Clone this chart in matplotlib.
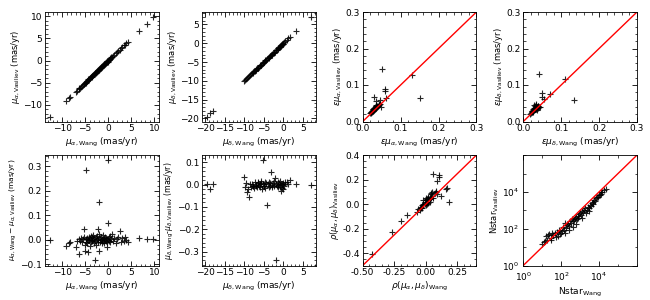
import matplotlib
matplotlib.use("Agg")
import matplotlib.pyplot as plt
import matplotlib.ticker as mticker
import numpy as np

# proper motion in RA (Wang) and the Wang - Vasiliev difference
pmra_wang = [-12.6, -9.2, -8.5, -8.3, -7.0, -6.8, -6.4, -6.3, -6.1, -5.9,
             -5.7, -5.5, -5.3, -5.2, -5.1, -5.0, -4.9, -4.8, -4.7, -4.6,
             -4.5, -4.4, -4.3, -4.2, -4.1, -4.0, -3.9, -3.8, -3.7, -3.6,
             -3.5, -3.4, -3.3, -3.2, -3.1, -3.0, -2.9, -2.8, -2.7, -2.6,
             -2.5, -2.4, -2.3, -2.2, -2.1, -2.0, -1.95, -1.9, -1.8, -1.7,
             -1.6, -1.5, -1.4, -1.3, -1.2, -1.1, -1.0, -0.9, -0.8, -0.7,
             -0.6, -0.5, -0.4, -0.3, -0.2, -0.1, 0.0, 0.05, 0.1, 0.2,
             0.3, 0.5, 0.7, 0.9, 1.1, 1.3, 1.6, 1.9, 2.2, 2.5,
             2.8, 3.1, 3.4, 3.6, 3.9, 4.2, 6.7, 8.3, 9.8, -0.35]
pmra_diff = [0.000, -0.025, -0.012, -0.008, -0.030, -0.005, 0.002, -0.060, -0.004, 0.006,
             -0.010, 0.004, 0.010, 0.045, -0.020, -0.045, -0.008, 0.003, 0.285, -0.015,
             0.008, -0.003, -0.050, 0.012, 0.000, -0.025, 0.005, -0.010, 0.015, -0.002,
             0.010, -0.006, 0.020, 0.002, -0.012, 0.007, -0.004, -0.085, 0.012, -0.020,
             0.004, 0.015, -0.008, 0.042, 0.000, 0.155, -0.045, 0.022, -0.010, 0.006,
             -0.003, 0.010, -0.015, 0.002, 0.018, -0.006, 0.004, -0.012, 0.008, 0.000,
             0.012, -0.004, 0.006, -0.010, 0.003, 0.000, 0.325, 0.070, -0.006, 0.010,
             -0.008, 0.015, 0.002, 0.025, -0.005, 0.008, -0.012, 0.004, 0.010, 0.035,
             -0.010, 0.006, -0.004, 0.012, 0.000, -0.008, 0.005, 0.003, 0.001, -0.030]

# proper motion in Dec (Wang) and the Wang - Vasiliev difference
pmde_wang = [-19.5, -18.7, -18.0, -10.1, -9.8, -9.6, -9.3, -9.0, -8.8, -8.5,
             -8.2, -8.0, -7.7, -7.5, -7.3, -7.1, -6.9, -6.7, -6.5, -6.3,
             -6.1, -5.9, -5.7, -5.5, -5.3, -5.2, -5.0, -4.8, -4.6, -4.4,
             -4.2, -4.0, -3.8, -3.6, -3.4, -3.2, -3.0, -2.8, -2.6, -2.4,
             -2.2, -2.0, -1.9, -1.7, -1.5, -1.3, -1.1, -0.9, -0.7, -0.5,
             -0.4, -0.3, -0.2, -0.1, 0.0, 0.2, 0.5, 0.9, 1.3, 1.6,
             3.3, 7.0, -5.8, -4.9, -3.5, -2.5, -1.4, -0.8, -6.6, -7.9]
pmde_diff = [0.004, -0.020, 0.003, 0.035, -0.010, 0.006, -0.035, -0.020, -0.055, 0.002,
             -0.012, 0.005, -0.008, -0.015, 0.010, -0.004, 0.000, -0.010, 0.012, -0.006,
             0.003, -0.012, 0.008, -0.020, 0.004, 0.110, -0.008, 0.010, -0.015, 0.006,
             -0.090, 0.002, -0.010, 0.012, -0.004, 0.055, 0.000, -0.012, 0.008, -0.006,
             0.030, -0.340, 0.004, -0.008, 0.010, -0.003, 0.006, -0.010, 0.002, -0.030,
             -0.015, 0.004, -0.020, 0.008, 0.000, -0.006, 0.010, 0.012, 0.004, 0.020,
             0.003, 0.000, 0.018, -0.005, 0.006, 0.015, -0.012, 0.016, 0.008, -0.004]

# proper motion errors
epmra_wang = [0.020, 0.022, 0.023, 0.024, 0.025, 0.026, 0.027, 0.028, 0.029, 0.030,
              0.031, 0.032, 0.033, 0.034, 0.035, 0.036, 0.038, 0.040, 0.042, 0.045,
              0.021, 0.024, 0.026, 0.028, 0.030, 0.032, 0.034, 0.036, 0.039, 0.044,
              0.030, 0.035, 0.045, 0.050, 0.058, 0.058, 0.062, 0.130, 0.152, 0.048]
epmra_vas = [0.022, 0.025, 0.024, 0.030, 0.028, 0.033, 0.029, 0.035, 0.031, 0.038,
             0.034, 0.040, 0.036, 0.042, 0.038, 0.045, 0.040, 0.042, 0.046, 0.048,
             0.026, 0.027, 0.030, 0.032, 0.036, 0.035, 0.039, 0.041, 0.043, 0.047,
             0.067, 0.055, 0.060, 0.145, 0.090, 0.084, 0.065, 0.128, 0.065, 0.040]
epmde_wang = [0.019, 0.021, 0.022, 0.023, 0.024, 0.025, 0.026, 0.027, 0.028, 0.029,
              0.030, 0.031, 0.032, 0.033, 0.034, 0.035, 0.036, 0.037, 0.039, 0.041,
              0.022, 0.025, 0.027, 0.029, 0.031, 0.033, 0.035, 0.038, 0.040, 0.044,
              0.042, 0.110, 0.135, 0.050, 0.050, 0.070, 0.055, 0.028, 0.033, 0.037]
epmde_vas = [0.021, 0.024, 0.028, 0.025, 0.030, 0.027, 0.033, 0.029, 0.036, 0.031,
             0.038, 0.033, 0.042, 0.035, 0.045, 0.037, 0.040, 0.036, 0.042, 0.040,
             0.026, 0.030, 0.032, 0.034, 0.037, 0.036, 0.040, 0.043, 0.038, 0.040,
             0.130, 0.117, 0.058, 0.077, 0.068, 0.075, 0.063, 0.046, 0.048, 0.032]

# correlation coefficient
rho_wang = [-0.43, -0.27, -0.20, -0.15, -0.07, -0.06, -0.05, -0.04, -0.04, -0.03,
            -0.03, -0.02, -0.02, -0.01, -0.01, 0.00, 0.00, 0.00, 0.01, 0.01,
            0.01, 0.02, 0.02, 0.02, 0.03, 0.03, 0.03, 0.04, 0.04, 0.05,
            0.05, 0.06, 0.07, 0.08, 0.09, 0.06, 0.10, 0.10, 0.09, 0.17,
            0.16, 0.18, 0.12, 0.08, -0.02, 0.00, 0.01, -0.05, 0.04, 0.02]
rho_vas = [-0.41, -0.225, -0.14, -0.09, -0.06, -0.04, -0.05, -0.02, -0.03, -0.01,
           -0.03, 0.00, -0.01, 0.02, 0.00, 0.03, 0.01, -0.01, 0.04, 0.02,
           0.00, 0.05, 0.03, 0.01, 0.06, 0.04, 0.02, 0.08, 0.05, 0.10,
           0.07, 0.25, 0.09, 0.10, 0.19, 0.05, 0.24, 0.22, 0.08, 0.13,
           0.12, 0.02, 0.07, 0.11, 0.03, 0.05, 0.04, -0.03, 0.09, 0.06]

# number of member stars
nstar_wang = [10, 12, 14, 16, 18, 20, 24, 28, 32, 38,
              45, 55, 60, 70, 80, 95, 110, 120, 140, 160,
              180, 200, 230, 260, 300, 340, 380, 420, 480, 550,
              620, 700, 800, 900, 1000, 1150, 1300, 1500, 1700, 1900,
              2200, 2500, 2800, 3200, 3600, 4000, 4500, 5000, 5600, 6300,
              7000, 8000, 9000, 10000, 11500, 13000, 15000, 18000, 22000, 250,
              150, 600, 1200, 2000, 30, 90, 400, 750, 3000, 12000]
nstar_vas = [15, 18, 22, 40, 25, 45, 50, 30, 60, 45,
             55, 35, 70, 40, 80, 60, 75, 130, 90, 200,
             110, 150, 180, 140, 260, 200, 320, 250, 300, 380,
             450, 350, 500, 600, 700, 550, 900, 800, 1000, 1300,
             1100, 1600, 1400, 2000, 1800, 2600, 2300, 3000, 3500, 3200,
             4500, 5000, 5500, 6500, 7000, 8000, 9500, 12000, 15000, 90,
             60, 180, 400, 700, 25, 50, 120, 400, 900, 10000]

pmra_vas = np.array(pmra_wang) - np.array(pmra_diff)
pmde_vas = np.array(pmde_wang) - np.array(pmde_diff)

plt.rcParams['font.size'] = 6.5
plt.rcParams['mathtext.default'] = 'it'

fig = plt.figure(figsize=(6.5, 3.0), dpi=100)
lefts = [0.069, 0.311, 0.558, 0.805]
w = 0.175
axes = []
for b, h in [(0.595, 0.365), (0.115, 0.368)]:
    for l in lefts:
        axes.append(fig.add_axes([l, b, w, h]))

mk = dict(marker='+', color='k', linestyle='none', markersize=4.5,
          markeredgewidth=0.8, alpha=0.85)
xl = dict(fontsize=6.5)
yl = dict(fontsize=6)

ax = axes[0]
ax.plot(pmra_wang, pmra_vas, **mk)
ax.xaxis.set_major_locator(mticker.MultipleLocator(5))
ax.yaxis.set_major_locator(mticker.MultipleLocator(5))
ax.set_xlabel(r'$\mu_{\alpha,\rm Wang}$ (mas/yr)', **xl)
ax.set_ylabel(r'$\mu_{\alpha,\rm Vasiliev}$ (mas/yr)', **yl)

ax = axes[1]
ax.plot(pmde_wang, pmde_vas, **mk)
ax.xaxis.set_major_locator(mticker.MultipleLocator(5))
ax.yaxis.set_major_locator(mticker.MultipleLocator(5))
ax.set_xlabel(r'$\mu_{\delta,\rm Wang}$ (mas/yr)', **xl)
ax.set_ylabel(r'$\mu_{\delta,\rm Vasiliev}$ (mas/yr)', **yl)

ax = axes[2]
ax.plot(epmra_wang, epmra_vas, **mk)
ax.plot([0, 0.3], [0, 0.3], color='red', lw=1)
ax.set_xlim(0, 0.3)
ax.set_ylim(0, 0.3)
ax.set_xticks([0, 0.1, 0.2, 0.3])
ax.set_yticks([0, 0.1, 0.2, 0.3])
ax.set_xlabel(r'$\varepsilon\mu_{\alpha,\rm Wang}$ (mas/yr)', **xl)
ax.set_ylabel(r'$\varepsilon\mu_{\alpha,\rm Vasiliev}$ (mas/yr)', **yl)

ax = axes[3]
ax.plot(epmde_wang, epmde_vas, **mk)
ax.plot([0, 0.3], [0, 0.3], color='red', lw=1)
ax.set_xlim(0, 0.3)
ax.set_ylim(0, 0.3)
ax.set_xticks([0, 0.1, 0.2, 0.3])
ax.set_yticks([0, 0.1, 0.2, 0.3])
ax.set_xlabel(r'$\varepsilon\mu_{\delta,\rm Wang}$ (mas/yr)', **xl)
ax.set_ylabel(r'$\varepsilon\mu_{\delta,\rm Vasiliev}$ (mas/yr)', **yl)

ax = axes[4]
ax.plot(pmra_wang, pmra_diff, **mk)
ax.xaxis.set_major_locator(mticker.MultipleLocator(5))
ax.yaxis.set_major_locator(mticker.MultipleLocator(0.1))
ax.set_xlabel(r'$\mu_{\alpha,\rm Wang}$ (mas/yr)', **xl)
ax.set_ylabel(r'$\mu_{\alpha,\rm Wang}-\mu_{\alpha,\rm Vasiliev}$ (mas/yr)', fontsize=5.4)

ax = axes[5]
ax.plot(pmde_wang, pmde_diff, **mk)
ax.xaxis.set_major_locator(mticker.MultipleLocator(5))
ax.yaxis.set_major_locator(mticker.MultipleLocator(0.1))
ax.set_xlabel(r'$\mu_{\delta,\rm Wang}$ (mas/yr)', **xl)
ax.set_ylabel(r'$\mu_{\delta,\rm Wang}$-$\mu_{\delta,\rm Vasiliev}$ (mas/yr)', fontsize=5.6)

ax = axes[6]
ax.plot(rho_wang, rho_vas, **mk)
ax.plot([-0.5, 0.4], [-0.5, 0.4], color='red', lw=1)
ax.set_xlim(-0.5, 0.4)
ax.set_ylim(-0.5, 0.4)
ax.set_xticks([-0.5, -0.25, 0, 0.25])
ax.set_yticks([-0.4, -0.2, 0, 0.2, 0.4])
ax.xaxis.set_major_formatter(mticker.FormatStrFormatter('%.2f'))
ax.yaxis.set_major_formatter(mticker.FormatStrFormatter('%.1f'))
ax.set_xlabel(r'$\rho(\mu_\alpha,\mu_\delta)_{\rm Wang}$', **xl)
ax.set_ylabel(r'$\rho(\mu_\alpha,\mu_\delta)_{\rm Vasiliev}$', **yl)

ax = axes[7]
ax.plot(nstar_wang, nstar_vas, **mk)
ax.plot([1, 1e6], [1, 1e6], color='red', lw=1)
ax.set_xscale('log')
ax.set_yscale('log')
ax.set_xlim(1, 1e6)
ax.set_ylim(1, 1e6)
ax.set_xticks([1, 1e2, 1e4])
ax.set_yticks([1, 1e2, 1e4])
ax.xaxis.set_minor_locator(mticker.LogLocator(base=10, subs=(1.0,), numticks=10))
ax.yaxis.set_minor_locator(mticker.LogLocator(base=10, subs=(1.0,), numticks=10))
ax.xaxis.set_minor_formatter(mticker.NullFormatter())
ax.yaxis.set_minor_formatter(mticker.NullFormatter())
ax.set_xlabel(r'Nstar$_{\rm Wang}$', **xl)
ax.set_ylabel(r'Nstar$_{\rm Vasiliev}$', **yl)

for i, ax in enumerate(axes):
    if i != 7:
        ax.minorticks_on()
    ax.tick_params(which='both', direction='in', top=True, right=True, labelsize=6.5, pad=2)
    ax.tick_params(which='major', length=3.5, width=0.6)
    ax.tick_params(which='minor', length=1.8, width=0.5)
    for s in ax.spines.values():
        s.set_linewidth(0.6)
    ax.xaxis.labelpad = 2
    ax.yaxis.labelpad = 1

# keep the two 10^0 labels of the log panel from touching
axes[7].tick_params(axis='x', which='major', pad=3.5)
axes[7].tick_params(axis='y', which='major', pad=3)

fig.savefig('out.png', dpi=100)
